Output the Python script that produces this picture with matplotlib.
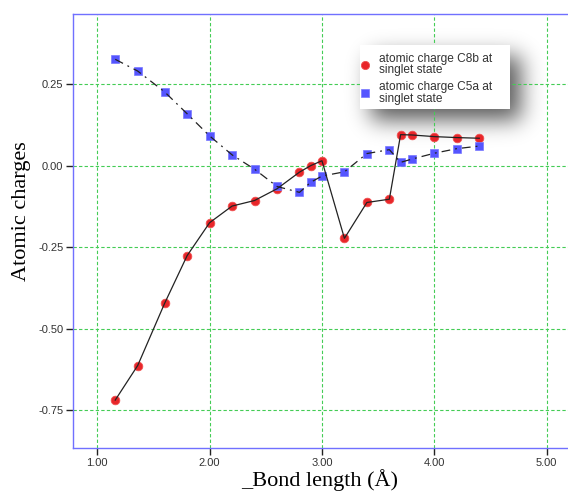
import numpy as np
import matplotlib
matplotlib.use("Agg")
import matplotlib.pyplot as plt
from matplotlib.patches import Rectangle

bond_length = [1.16, 1.36, 1.60, 1.80, 2.00, 2.20, 2.40, 2.60, 2.80, 2.90, 3.00,
               3.20, 3.40, 3.60, 3.70, 3.80, 4.00, 4.20, 4.40]
c8b_singlet = [-0.719, -0.613, -0.422, -0.276, -0.175, -0.124, -0.107, -0.071, -0.020,
               0.000, 0.015, -0.223, -0.113, -0.103, 0.095, 0.094, 0.089, 0.086, 0.084]
c5a_singlet = [0.326, 0.290, 0.226, 0.159, 0.091, 0.033, -0.011, -0.064, -0.082,
               -0.051, -0.032, -0.019, 0.037, 0.049, 0.010, 0.020, 0.038, 0.052, 0.060]
x_ticks = [1.0, 2.0, 3.0, 4.0, 5.0]
y_ticks = [-0.75, -0.50, -0.25, 0.00, 0.25]
legend_labels = ["atomic charge C8b at\nsinglet state", "atomic charge C5a at\nsinglet state"]

W, H = 568, 493
fig = plt.figure(figsize=(W / 100, H / 100), dpi=100)
fig.patch.set_facecolor("white")

# blurred legend shadow (pixel coords, top-left origin)
lx0, ly0, lx1, ly1 = 360, 45, 510, 109
mask = np.zeros((H, W))
off = 11
mask[ly0 + off:ly1 + off, lx0 + off:lx1 + off] = 1.0
sig = 11.0
k = np.arange(-40, 41)
g = np.exp(-k ** 2 / (2 * sig ** 2))
g /= g.sum()
mask = np.apply_along_axis(lambda r: np.convolve(r, g, mode="same"), 1, mask)
mask = np.apply_along_axis(lambda c: np.convolve(c, g, mode="same"), 0, mask)
rgba = np.zeros((H, W, 4))
rgba[..., 3] = mask * 0.65
fig.figimage(rgba, xo=0, yo=0, origin="upper", zorder=-1)

axw = 1 - 73 / W + 0.01
ax = fig.add_axes([73 / W, 1 - 448 / H, axw, (448 - 14) / H])
ax.set_facecolor("none")

ax.plot(bond_length, c8b_singlet, linestyle="none", marker="o", markersize=6.2,
        color="#e8262a", markeredgewidth=0.6, markeredgecolor="#f05050",
        zorder=3, label=legend_labels[0])
ax.plot(bond_length, c5a_singlet, linestyle="none", marker="s", markersize=5.5,
        color="#5555ff", markeredgewidth=0.5, markeredgecolor="#7777ff",
        zorder=3, label=legend_labels[1])
ax.plot(bond_length, c8b_singlet, color="#222222", linewidth=0.9, zorder=4)
ax.plot(bond_length, c5a_singlet, color="#222222", linewidth=0.9,
        linestyle=(0, (7, 4, 1.5, 4)), zorder=4)

ax.set_xlim(0.784, 5.19 + 0.01 * W / 112.3)
ax.set_ylim(-0.866, 0.465)
ax.set_xticks(x_ticks)
ax.set_xticklabels([f"{v:.2f}" for v in x_ticks])
ax.set_yticks(y_ticks)
ax.set_yticklabels([f"{v:.2f}" for v in y_ticks])

ax.grid(True, color="#44cc55", linestyle=(0, (3, 2)), linewidth=0.8, zorder=1)
ax.set_axisbelow(True)

for s in ["left", "top", "bottom"]:
    ax.spines[s].set_color("#7070ff")
    ax.spines[s].set_linewidth(1.0)
ax.spines["right"].set_visible(False)

ax.tick_params(axis="both", direction="out", labelsize=8, labelcolor="#333333",
               color="#222222", width=1.0, length=5, pad=2,
               labelfontfamily="Liberation Sans")

ax.set_xlabel("_Bond length (Å)", fontsize=16, family="Liberation Serif")
ax.set_ylabel("Atomic charges", fontsize=16, family="Liberation Serif")
ax.xaxis.set_label_coords((320 - 73) / (W * axw), -21 / 434)
ax.yaxis.set_label_coords(-(73 - 31) / (W * axw), (448 - 211) / 434)

# legend box
ax.add_patch(Rectangle((lx0 / W, 1 - ly1 / H), (lx1 - lx0) / W, (ly1 - ly0) / H,
                       transform=fig.transFigure, facecolor="white",
                       edgecolor="none", zorder=9, clip_on=False))
leg = ax.legend(loc="upper left", bbox_to_anchor=(lx0 / W, 1 - 53 / H),
                bbox_transform=fig.transFigure, frameon=False,
                prop={"family": "Liberation Sans", "size": 8.6},
                handletextpad=0.7, handlelength=0.9, labelspacing=0.45,
                borderpad=0.0, borderaxespad=0, markerscale=0.95)
for t in leg.get_texts():
    t.set_color("#333333")
    t.set_linespacing(0.9)
leg.set_zorder(10)

fig.savefig("out.png", dpi=100, facecolor="white")
